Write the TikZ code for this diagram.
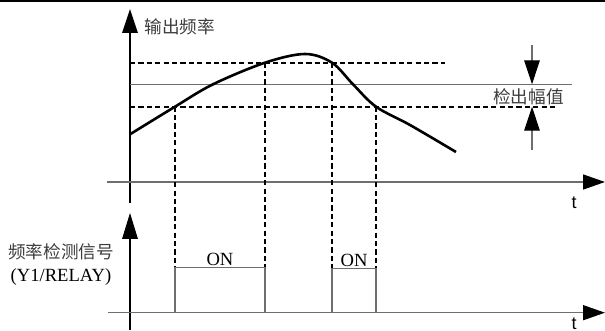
\documentclass[tikz,border=0pt]{standalone}
\usepackage{fontspec}
\setmainfont{Liberation Serif}
\setsansfont{Liberation Sans}
\newfontfamily\cjk{Noto Sans CJK SC}
\usetikzlibrary{arrows.meta,calc}
\usepackage{tkz-euclide}
\definecolor{AxisClr}{RGB}{110,110,110}
\definecolor{TextClr}{RGB}{60,60,60}

\tikzset{
  bigtip/.style={-{Triangle[length=12pt,width=7.8pt,color=black]}},
  axisline/.style={line width=.7pt,color=black},
  taxis/.style={line width=.8pt,color=AxisClr},
  guideline/.style={line width=.9pt,dash pattern=on 2.6pt off 1.6pt},
  pulseline/.style={line width=.6pt,color=AxisClr},
  cjklabel/.style={font=\cjk\fontsize{8.8}{10}\selectfont,text=TextClr,inner sep=0pt},
  romlabel/.style={font=\fontsize{9.3}{11}\selectfont,inner sep=0pt}
}

\begin{document}
\begin{tikzpicture}[x=.5pt,y=-.5pt]
\useasboundingbox (0,0) rectangle (605,331);
\fill (0,0) rectangle (605,2.5);

\newcommand{\OnA}{267.3}
\newcommand{\OnB}{268.3}
\newcommand{\BaseT}{312.7}

% axes
\tkzDefPoints{130/203/Ya,130/9/Yb,107/182/Ta,605/182/Tb}
\tkzDefPoints{130/330/Yc,130/213/Yd,108/\BaseT/Tc,605/\BaseT/Td}
\draw[axisline,bigtip] (Ya) -- (Yb);
\draw[axisline,{-{Triangle[length=13pt,width=7.8pt,color=black]}}] (Yc) -- (Yd);
\draw[taxis,{-{Triangle[length=11pt,width=7.5pt,color=black]}}] (Ta) -- (Tb);
\draw[taxis,{-{Triangle[length=11pt,width=7.5pt,color=black]}}] (Tc) -- (Td);

% levels
\tkzDefPoints{130/62.7/H1,445/62.7/H2,130/84.3/S1,571.7/84.3/S2,130/106.7/L1,558/106.7/L2}
\draw[guideline] (H1) -- (H2);
\draw[line width=.6pt,color=AxisClr] (S1) -- (S2);
\draw[guideline] (L1) -- (L2);

% output frequency
\tkzDefPoints{175/106.7/A,265/62.7/B,332/62.7/C,376/106.7/D}
\tkzDefPoints{130/134.3/P0,213/84.3/P1,305/54/P2,353/84.3/P3,410/125/P4,456/152/P5}
\draw[line width=1.3pt,line join=round] plot[smooth,tension=.55]
  coordinates {(P0) (A) (P1) (B) (P2) (C) (P3) (D) (P4) (P5)};

% detection signal
\tkzDefPoints{175/\OnA/A1,265/\OnA/B1,332/\OnB/C1,376/\OnB/D1}
\tkzDefPoints{175/\BaseT/A0,265/\BaseT/B0,332/\BaseT/C0,376/\BaseT/D0}
\foreach \p in {A,B,C,D}
  \draw[guideline] (\p) -- (\p1);
\draw[pulseline] (A0) -- (A1) -- (B1) -- (B0);
\draw[pulseline] (C0) -- (C1) -- (D1) -- (D0);

% band
\tkzDefPoints{532/45/M1,532/84.3/M2,532/150/M3,532/106.7/M4}
\draw[pulseline,bigtip] (M1) -- (M2);
\draw[pulseline,bigtip] (M3) -- (M4);

\node[cjklabel,anchor=west] (fout) at (144,27) {输出频率};
\node[cjklabel] (band) at (528.5,97) {检出幅值};
\node[cjklabel] (sig) at (61,251.7) {频率检测信号};
\node[romlabel] (relay) at (61,276.7) {(Y1/RELAY)};
\node[romlabel,anchor=south] (on1) at ($(A1)!.5!(B1)+(0,-1.5)$) {ON};
\node[romlabel,anchor=south] (on2) at ($(C1)!.5!(D1)+(0,-1.5)$) {ON};
\node[romlabel,font=\sffamily\fontsize{9}{11}\selectfont] (t1) at (574,203) {t};
\node[romlabel,font=\sffamily\fontsize{9}{11}\selectfont,anchor=south] (t2) at (574,330) {t};

\end{tikzpicture}
\end{document}
